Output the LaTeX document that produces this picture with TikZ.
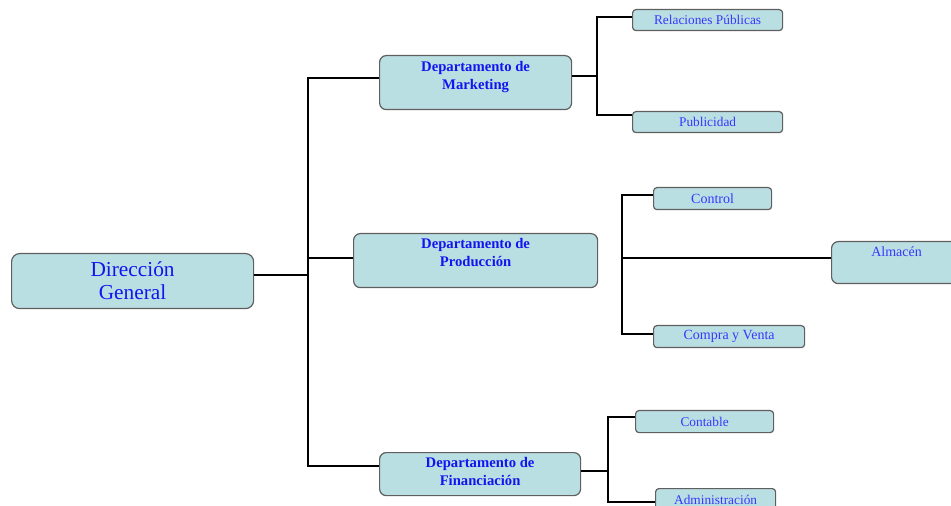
\documentclass[tikz,border=0pt]{standalone}
\usepackage{fontspec}
\setmainfont{Liberation Serif}
\usepackage{xcolor}
\usepackage{tikz}
\definecolor{boxfill}{RGB}{186,223,227}
\definecolor{boxline}{RGB}{95,95,95}
\definecolor{txtblue}{RGB}{20,20,240}
\definecolor{subblue}{RGB}{55,55,255}

\begin{document}
\begin{tikzpicture}[x=0.75pt,y=-0.75pt,
    box/.style={draw=boxline, line width=0.9pt, fill=boxfill, rounded corners=5pt, anchor=north west, inner sep=2pt, text=txtblue},
    dir node/.style={box, rounded corners=6pt, minimum width=181.5pt, minimum height=41.25pt, align=center, font=\fontsize{16}{17.25}\selectfont},
    dept node/.style={box, minimum height=40.5pt, align=center, font=\fontsize{11}{13.5}\selectfont\bfseries},
    sub node/.style={box, rounded corners=2.5pt, minimum height=16.5pt, font=\fontsize{10}{12}\selectfont, text=subblue},
    link/.style={line width=1.3pt}]
    \clip (0,0) rectangle (951,506);

    % Nodes
    \node[dir node] (dir) at (11,253) {Dirección\\General};

    \node[dept node, minimum width=144pt, text depth=11pt] (mkt) at (379,55) {Departamento de\\Marketing};
    \node[dept node, minimum width=183pt, text depth=12.5pt] (prod) at (353,233) {Departamento de\\Producción};
    \node[dept node, minimum width=150.75pt, minimum height=32.25pt, text depth=4.5pt] (fin) at (379,452) {Departamento de\\Financiación};

    \node[sub node, minimum width=112.5pt, minimum height=15.75pt] (rp) at (632,9) {Relaciones Públicas};
    \node[sub node, minimum width=112.5pt, minimum height=15.75pt] (pub) at (632,111) {Publicidad};

    \node[sub node, minimum width=88.5pt, font=\fontsize{10.5}{12}\selectfont] (ctrl) at (653,187) {Control};
    \node[sub node, minimum width=113.25pt, font=\fontsize{10.5}{12}\selectfont] (cyv) at (653,325) {Compra y Venta};
    \node[sub node, rounded corners=5pt, minimum width=97.5pt, minimum height=31.5pt, text depth=16pt, font=\fontsize{10.5}{12}\selectfont] (alm) at (831,241) {Almacén};

    \node[sub node, minimum width=103.5pt] (cont) at (635,410) {Contable};
    \node[sub node, minimum width=90pt] (adm) at (655,488) {Administración};

    % junctions
    \coordinate (t0) at (308,275);
    \coordinate (t1) at (308,78);
    \coordinate (t2) at (308,258);
    \coordinate (t3) at (308,466);

    \coordinate (m0) at (597,76);
    \coordinate (m1) at (597,17);
    \coordinate (m2) at (597,115);

    \coordinate (p1) at (622,195);
    \coordinate (p2) at (622,258);
    \coordinate (p3) at (622,334);

    \coordinate (f0) at (608,471);
    \coordinate (f1) at (608,417);
    \coordinate (f2) at (608,502);

    % Links
    \draw[link] (dir.east |- t0) -- (t0);
    \draw[link] (mkt.west |- t1) -- (t1) -- (t3) -- (fin.west |- t3);
    \draw[link] (t2) -- (prod.west |- t2);

    \draw[link] (mkt.east |- m0) -- (m0);
    \draw[link] (rp.west |- m1) -- (m1) -- (m2) -- (pub.west |- m2);

    \draw[link] (ctrl.west |- p1) -- (p1) -- (p3) -- (cyv.west |- p3);
    \draw[link] (p2) -- (alm.west |- p2);

    \draw[link] (fin.east |- f0) -- (f0);
    \draw[link] (cont.west |- f1) -- (f1) -- (f2) -- (adm.west |- f2);
\end{tikzpicture}
\end{document}
